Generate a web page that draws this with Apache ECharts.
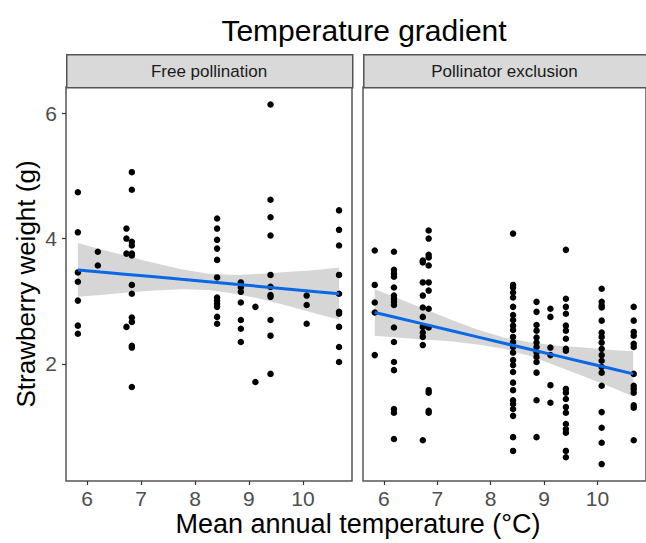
<!DOCTYPE html>
<html>
<head>
<meta charset="utf-8">
<script src="https://cdn.jsdelivr.net/npm/echarts@6/dist/echarts.min.js"></script>
<style>html,body{margin:0;padding:0;background:#fff}#c{width:646px;height:543px}</style>
</head>
<body>
<div id="c"></div>
<script>
// ---- data ----
const panelNames = ['Free pollination', 'Pollinator exclusion'];
const xTicks = [6, 7, 8, 9, 10];
const yTicks = [2, 4, 6];

const freeTemps = [5.83, 6.2, 6.73, 6.83, 8.41, 8.85, 9.12, 9.4, 10.07, 10.67];
const freeWeights = [
  [4.74, 4.10, 3.46, 3.31, 3.01, 2.61, 2.48],
  [3.79, 3.57],
  [4.16, 4.00, 3.76, 2.59],
  [5.06, 4.78, 3.95, 3.89, 3.76, 3.73, 3.26, 3.12, 2.74, 2.67, 2.29, 2.26, 1.63],
  [4.32, 4.16, 3.98, 3.84, 3.66, 3.38, 3.06, 3.01, 2.96, 2.91, 2.75, 2.64],
  [3.30, 3.22, 3.15, 2.98, 2.70, 2.56, 2.35],
  [2.91, 1.71],
  [6.14, 4.62, 4.34, 4.05, 3.42, 3.23, 3.10, 3.07, 2.70, 2.45, 1.84],
  [3.09, 2.94, 2.64],
  [4.45, 4.14, 3.89, 3.42, 3.12, 2.83, 2.80, 2.59, 2.27, 2.03]
];

const exclTemps = [5.83, 6.19, 6.73, 6.84, 8.42, 8.86, 9.12, 9.41, 10.08, 10.68];
const exclWeights = [
  [3.81, 3.26, 2.98, 2.82, 2.14],
  [3.79, 3.50, 3.44, 3.39, 3.22, 3.09, 3.04, 2.99, 2.94, 2.58, 2.35, 2.03, 1.90, 1.28, 1.22, 0.80],
  [3.65, 3.62, 3.30, 3.09, 2.90, 2.75, 2.59, 2.50, 2.43, 2.30, 0.78],
  [4.13, 4.00, 3.74, 3.70, 3.57, 3.30, 3.17, 2.88, 2.58, 1.58, 1.54, 1.25, 1.22],
  [4.08, 3.26, 3.22, 3.14, 3.06, 2.91, 2.78, 2.70, 2.61, 2.54, 2.43, 2.35, 2.27, 2.18, 2.06, 1.98, 1.87, 1.70, 1.58, 1.42, 1.36, 1.28, 1.17, 0.83, 0.61],
  [2.99, 2.83, 2.62, 2.53, 2.42, 2.34, 2.27, 2.18, 2.11, 2.03, 1.86, 1.42, 0.83],
  [2.88, 2.75, 2.26, 2.14, 1.66, 1.38],
  [3.82, 3.04, 2.91, 2.80, 2.61, 2.53, 2.40, 2.24, 2.21, 1.60, 1.54, 1.44, 1.31, 1.22, 1.04, 0.96, 0.90, 0.61, 0.51],
  [3.20, 2.99, 2.93, 2.90, 2.69, 2.50, 2.43, 2.34, 2.24, 2.14, 2.05, 1.95, 1.86, 1.65, 1.23, 0.98, 0.74, 0.40],
  [2.91, 2.69, 2.51, 2.45, 2.32, 2.27, 1.84, 1.65, 1.60, 1.54, 1.34, 1.30, 0.78]
];

// fitted line and confidence band
const fitTemps = [5.83, 6.25, 6.75, 7.25, 7.75, 8.25, 8.75, 9.25, 9.75, 10.25, 10.67];
const freeFit  = [3.50, 3.467, 3.428, 3.389, 3.349, 3.310, 3.271, 3.232, 3.192, 3.153, 3.120];
const freeLow  = [3.07, 3.10, 3.14, 3.17, 3.19, 3.18, 3.12, 3.03, 2.92, 2.80, 2.71];
const freeHigh = [3.93, 3.83, 3.72, 3.61, 3.51, 3.44, 3.42, 3.44, 3.47, 3.50, 3.54];
const exclFit  = [2.820, 2.735, 2.634, 2.532, 2.431, 2.330, 2.229, 2.127, 2.026, 1.925, 1.840];
const exclLow  = [2.45, 2.42, 2.39, 2.36, 2.31, 2.24, 2.12, 1.96, 1.80, 1.63, 1.48];
const exclHigh = [3.19, 3.05, 2.88, 2.71, 2.55, 2.42, 2.34, 2.29, 2.26, 2.22, 2.20];

// ---- build ----
function pairs(temps, weights) {
  const out = [];
  temps.forEach((t, i) => weights[i].forEach(w => out.push([t, w])));
  return out;
}
function zip(xs, ys) { return xs.map((x, i) => [x, ys[i]]); }

const FONT = 'Liberation Sans, Arial, sans-serif';
const GRID_TOP = 87, GRID_H = 394, GRID_W = 286;
const grids = [
  { left: 66, top: GRID_TOP, width: GRID_W, height: GRID_H },
  { left: 363, top: GRID_TOP, width: GRID_W, height: GRID_H }
];

function bandSeries(idx, low, high) {
  return {
    type: 'custom', xAxisIndex: idx, yAxisIndex: idx, z: 1,
    data: [[fitTemps[0], low[0]]],
    renderItem: function (params, api) {
      const pts = [];
      for (let i = 0; i < fitTemps.length; i++) pts.push(api.coord([fitTemps[i], high[i]]));
      for (let i = fitTemps.length - 1; i >= 0; i--) pts.push(api.coord([fitTemps[i], low[i]]));
      return { type: 'polygon', shape: { points: pts }, style: { fill: 'rgba(153,153,153,0.4)', stroke: null } };
    },
    silent: true
  };
}

const xAxes = [0, 1].map(i => ({
  type: 'value', gridIndex: i, min: 5.61, max: 10.91,
  axisLine: { show: false },
  splitLine: { show: false },
  axisTick: { show: true, length: 4, lineStyle: { color: '#333', width: 1.2 }, customValues: xTicks },
  axisLabel: { color: '#4d4d4d', fontSize: 21, fontFamily: FONT, margin: 7, customValues: xTicks }
}));
const yAxes = [0, 1].map(i => ({
  type: 'value', gridIndex: i, min: 0.13, max: 6.42,
  axisLine: { show: false },
  splitLine: { show: false },
  axisTick: { show: i === 0, length: 4, lineStyle: { color: '#333', width: 1.2 }, customValues: yTicks },
  axisLabel: { show: i === 0, color: '#4d4d4d', fontSize: 21, fontFamily: FONT, margin: 9, customValues: yTicks },
  name: i === 0 ? 'Strawberry weight (g)' : '',
  nameLocation: 'middle', nameGap: 27,
  nameTextStyle: { color: '#000', fontSize: 26, fontFamily: FONT }
}));

const series = [];
const sets = [
  { temps: freeTemps, weights: freeWeights, fit: freeFit, low: freeLow, high: freeHigh },
  { temps: exclTemps, weights: exclWeights, fit: exclFit, low: exclLow, high: exclHigh }
];
sets.forEach((s, i) => {
  series.push(bandSeries(i, s.low, s.high));
  series.push({
    type: 'scatter', xAxisIndex: i, yAxisIndex: i, z: 2,
    data: pairs(s.temps, s.weights), symbolSize: 6.5,
    itemStyle: { color: '#000', opacity: 1 }, silent: true
  });
  series.push({
    type: 'line', xAxisIndex: i, yAxisIndex: i, z: 3,
    data: zip(fitTemps, s.fit), showSymbol: false, symbol: 'none',
    lineStyle: { color: '#0a68e6', width: 3 }, silent: true
  });
});

const graphic = [];
grids.forEach((g, i) => {
  graphic.push({
    type: 'rect', left: g.left, top: 54,
    shape: { x: 0, y: 0, width: g.width, height: GRID_TOP - 54 },
    style: { fill: '#d9d9d9', stroke: '#555', lineWidth: 1.5 }, z: 10
  });
  graphic.push({
    type: 'text', x: g.left + (i === 0 ? g.width / 2 : 283 / 2), y: 71,
    style: { text: panelNames[i], fill: '#1a1a1a', fontSize: 17, fontFamily: FONT, align: 'center', verticalAlign: 'middle' }, z: 11
  });
});
graphic.push({
  type: 'text', x: 358, y: 524,
  style: { text: 'Mean annual temperature (°C)', fill: '#000', fontSize: 27, fontFamily: FONT, align: 'center', verticalAlign: 'middle' }
});

const chart = echarts.init(document.getElementById('c'), null, { renderer: 'svg' });
chart.setOption({
  animation: false,
  backgroundColor: '#fff',
  title: {
    text: 'Temperature gradient', left: 359, top: 10, textAlign: 'center',
    textStyle: { color: '#000', fontSize: 30, fontWeight: 'normal', fontFamily: FONT }
  },
  grid: grids.map(g => Object.assign({ show: true, borderColor: '#555', borderWidth: 1.5, backgroundColor: 'transparent', containLabel: false }, g)),
  xAxis: xAxes,
  yAxis: yAxes,
  series: series,
  graphic: graphic
});
</script>
</body>
</html>
